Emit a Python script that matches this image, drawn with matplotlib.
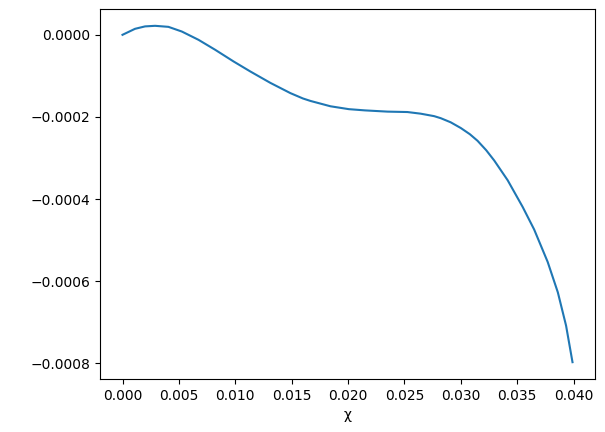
import numpy as np
import matplotlib
matplotlib.use('Agg')
import matplotlib.pyplot as plt

# values
chi = [0.0, 0.00111, 0.002, 0.00289, 0.00407, 0.00526, 0.00674, 0.00822,
       0.00985, 0.01133, 0.01311, 0.01489, 0.016, 0.01667, 0.01844, 0.02007,
       0.0215, 0.0235, 0.02526, 0.02644, 0.02763, 0.02822, 0.0291, 0.03,
       0.0308, 0.03148, 0.03225, 0.03296, 0.03415, 0.03548, 0.0365, 0.0377,
       0.0386, 0.03933, 0.0399]
val = [0.0, 0.0000146, 0.0000205, 0.0000219, 0.0000194, 0.000008,
       -0.0000122, -0.0000365, -0.0000649, -0.0000892, -0.000117, -0.000142,
       -0.000155, -0.000161, -0.000174, -0.000181, -0.000184, -0.000187,
       -0.000188, -0.000192, -0.000198, -0.000203, -0.000213, -0.000227,
       -0.000242, -0.000258, -0.000281, -0.000306, -0.000354, -0.000419,
       -0.000474, -0.000553, -0.000627, -0.000708, -0.000797]

fig = plt.figure(figsize=(6.05, 4.32), dpi=100)
ax = fig.add_axes([100/605, 53/432, 495/605, 370/432])
ax.plot(chi, val)
ax.set_xlabel('χ')

fig.savefig('out.png', dpi=100)
